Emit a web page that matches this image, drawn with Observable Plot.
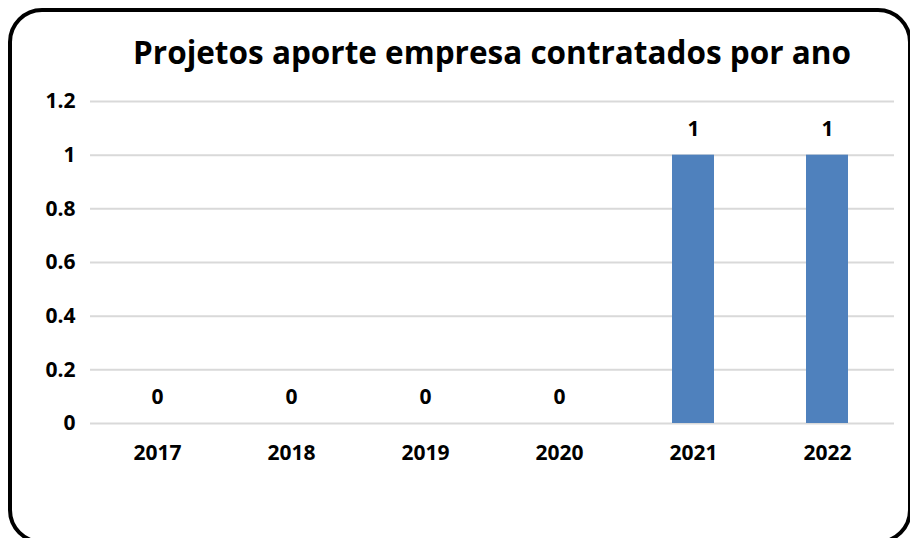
<!DOCTYPE html>
<html>
<head>
<meta charset="utf-8">
<script src="https://cdn.jsdelivr.net/npm/d3@7"></script>
<script src="https://cdn.jsdelivr.net/npm/@observablehq/plot@0.6"></script>
<style>
  html, body { margin: 0; padding: 0; background: #fff; width: 910px; height: 538px; overflow: hidden; }
  #frame { position: absolute; left: 8px; top: 8px; width: 904px; height: 536px; border: 4px solid #000; border-radius: 34px; box-sizing: border-box; }
  #title { position: absolute; left: 0; top: 30px; width: 984px; text-align: center; font-family: "Open Sans", sans-serif; font-weight: 700; font-size: 31.5px; color: #000; }
  #chart { position: absolute; left: 0; top: 85px; }
</style>
</head>
<body>
<div id="frame"></div>
<div id="title">Projetos aporte empresa contratados por ano</div>
<div id="chart"></div>
<script>
const years = ["2017", "2018", "2019", "2020", "2021", "2022"];
const counts = [0, 0, 0, 0, 1, 1];
const yTicks = [0, 0.2, 0.4, 0.6, 0.8, 1, 1.2];

const data = years.map((y, i) => ({year: y, value: counts[i]}));
const font = "'Open Sans', sans-serif";

const chart = Plot.plot({
  width: 910,
  height: 400,
  marginLeft: 90,
  marginRight: 16,
  marginTop: 16,
  marginBottom: 62,
  style: {fontFamily: font, fontSize: "21px", fontWeight: "700", color: "#000", background: "transparent"},
  x: {domain: years, paddingInner: 0.69, paddingOuter: 0.34, label: null, tickSize: 0, tickPadding: 22},
  y: {domain: [0, 1.2], ticks: yTicks, label: null, tickSize: 0, tickPadding: 15, tickFormat: d => String(+d.toFixed(1))},
  marks: [
    Plot.ruleY(yTicks, {stroke: "#d9d9d9", strokeWidth: 2}),
    Plot.barY(data, {x: "year", y: "value", fill: "#4f81bd"}),
    Plot.text(data, {x: "year", y: "value", text: d => String(d.value), dy: -26, fontSize: 21, fontWeight: 700, fill: "#000"})
  ]
});
document.getElementById("chart").appendChild(chart);
</script>
</body>
</html>
